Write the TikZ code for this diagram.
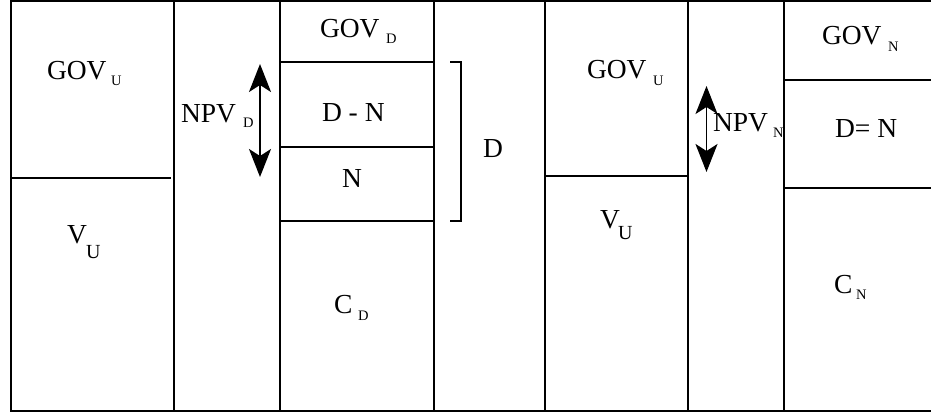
\documentclass[tikz,border=0pt]{standalone}
\usepackage{fontspec}
\setmainfont{Liberation Serif}
\usetikzlibrary{arrows.meta}
\begin{document}
\begin{tikzpicture}[x=1pt,y=-1pt, line width=2pt,
  main/.style={inner sep=0pt, anchor=base west, font=\fontsize{27.5}{30}\selectfont},
  sub/.style={inner sep=0pt, anchor=base west, font=\fontsize{14.5}{16}\selectfont},
  bigsub/.style={inner sep=0pt, anchor=base west, font=\fontsize{20}{22}\selectfont},
  dbl/.style={{Stealth[length=28pt,width=22pt,inset=7pt]}-{Stealth[length=28pt,width=22pt,inset=7pt]}, line width=1.8pt}]
\useasboundingbox (0,0) rectangle (931,414);
\fill[white] (0,0) rectangle (931,414);
% outer frame
\draw (932,1) -- (11,1) -- (11,411) -- (932,411);
% column separators
\draw (174,1) -- (174,411);
\draw (280,1) -- (280,411);
\draw (434,1) -- (434,411);
\draw (545,1) -- (545,411);
\draw (688,1) -- (688,411);
\draw (784,1) -- (784,411);
% horizontal separators
\draw (11,178) -- (171,178);
\draw (280,62) -- (434,62);
\draw (280,147) -- (434,147);
\draw (280,221) -- (434,221);
\draw (545,176) -- (688,176);
\draw (784,80) -- (932,80);
\draw (784,188) -- (932,188);
% bracket
\coordinate (bA) at (450,62);
\coordinate (bB) at (461,62);
\coordinate (bC) at (461,221);
\coordinate (bD) at (450,221);
\draw (bA) -- (bB) -- (bC) -- (bD);
% arrows
\coordinate (aDt) at (260,64);
\coordinate (aDb) at (260,177);
\draw[dbl] (aDt) -- (aDb);
\coordinate (aNt) at (706.5,86);
\coordinate (aNb) at (706.5,172);
\draw[dbl] (aNt) -- (aNb);
% column 1
\node[main] (gov1) at (46,80) {GOV};
\node[sub] (gov1s) at (110,86) {U};
\node[main] (v1) at (66,243) {V};
\node[bigsub] (v1s) at (85,258) {U};
% column 2
\node[main] (npvd) at (180,123) {NPV};
\node[sub] (npvds) at (242,128) {D};
% column 3
\node[main] (govd) at (319,38) {GOV};
\node[sub] (govds) at (385,44) {D};
\node[main] (dmn) at (321,122) {D - N};
\node[main] (n) at (341,188) {N};
\node[main] (cd) at (333,313) {C};
\node[sub] (cds) at (357,320) {D};
% bracket label
\node[main] (dlab) at (482,158) {D};
% column 5
\node[main] (gov5) at (586,79) {GOV};
\node[sub] (gov5s) at (652,86) {U};
\node[main] (v5) at (599,228) {V};
\node[bigsub] (v5s) at (617,239) {U};
% column 6
\node[main] (npvn) at (712,132) {NPV};
\node[sub] (npvns) at (772,138) {N};
% column 7
\node[main] (govn) at (821,45) {GOV};
\node[sub] (govns) at (887,52) {N};
\node[main] (deqn) at (834,138) {D= N};
\node[main] (cn) at (833,293) {C};
\node[sub] (cns) at (855,299) {N};
\end{tikzpicture}
\end{document}
